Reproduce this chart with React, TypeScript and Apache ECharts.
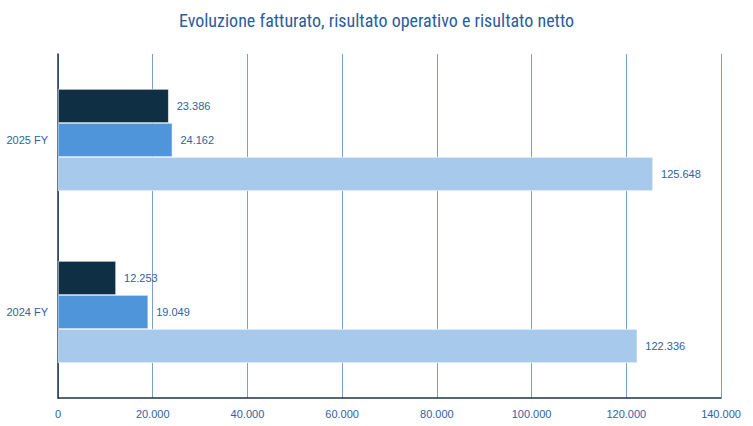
import React, { useEffect, useRef } from "react";
import * as echarts from "echarts";

const categories = ["2024 FY", "2025 FY"];
const fatturato = [122336, 125648];
const risultatoOperativo = [19049, 24162];
const risultatoNetto = [12253, 23386];
const seriesNames = ["Risultato netto", "Risultato operativo", "Fatturato"];
const seriesColors = ["#0e2f44", "#4e95d9", "#a6c9ec"];
const titleText = "Evoluzione fatturato, risultato operativo e risultato netto";

const fmt = (v: number) => {
  const s = Math.round(v).toString();
  return s.replace(/\B(?=(\d{3})+(?!\d))/g, ".");
};

export default function App() {
  const ref = useRef<HTMLDivElement>(null);
  useEffect(() => {
    if (!ref.current) return;
    const chart = echarts.init(ref.current, null, { renderer: "svg" });
    const textColor = "#2f62a0";
    const data = [risultatoNetto, risultatoOperativo, fatturato];
    chart.setOption({
      animation: false,
      backgroundColor: "#ffffff",
      title: {
        text: titleText,
        left: "center",
        top: 6,
        textStyle: {
          color: "#2b5d9c",
          fontSize: 18,
          fontWeight: "normal",
          fontFamily: "'Liberation Sans Narrow', 'Roboto Condensed', 'Roboto', sans-serif",
        },
      },
      grid: { left: 58, right: 32, top: 54, bottom: 28, containLabel: false },
      xAxis: {
        type: "value",
        min: 0,
        max: 140000,
        interval: 20000,
        axisLine: { show: true, lineStyle: { color: "#1d3346", width: 1.5 } },
        axisTick: { show: false },
        splitLine: { show: true, lineStyle: { color: "#7b9fc9", width: 1 } },
        axisLabel: {
          color: textColor,
          fontSize: 11,
          fontFamily: "'Liberation Sans', Arial, sans-serif",
          margin: 10,
          formatter: (v: number) => fmt(v),
        },
      },
      yAxis: {
        type: "category",
        data: categories,
        axisLine: { show: true, lineStyle: { color: "#1d3346", width: 1.5 } },
        axisTick: { show: false },
        axisLabel: {
          color: textColor,
          fontSize: 11,
          fontFamily: "'Liberation Sans', Arial, sans-serif",
          margin: 10,
        },
      },
      series: seriesNames.map((name, i) => ({
        name,
        type: "bar",
        data: data[i],
        barWidth: 34,
        barGap: "0%",
        barCategoryGap: "41%",
        itemStyle: { color: seriesColors[i], borderColor: "#ffffff", borderWidth: 0.6 },
        label: {
          show: true,
          position: "right",
          distance: 8,
          color: textColor,
          fontSize: 11,
          fontFamily: "'Liberation Sans', Arial, sans-serif",
          formatter: (p: any) => fmt(p.value),
        },
      })),
    });
    return () => chart.dispose();
  }, []);
  return <div ref={ref} style={{ width: 753, height: 426, position: "absolute", left: 0, top: 0 }} />;
}
